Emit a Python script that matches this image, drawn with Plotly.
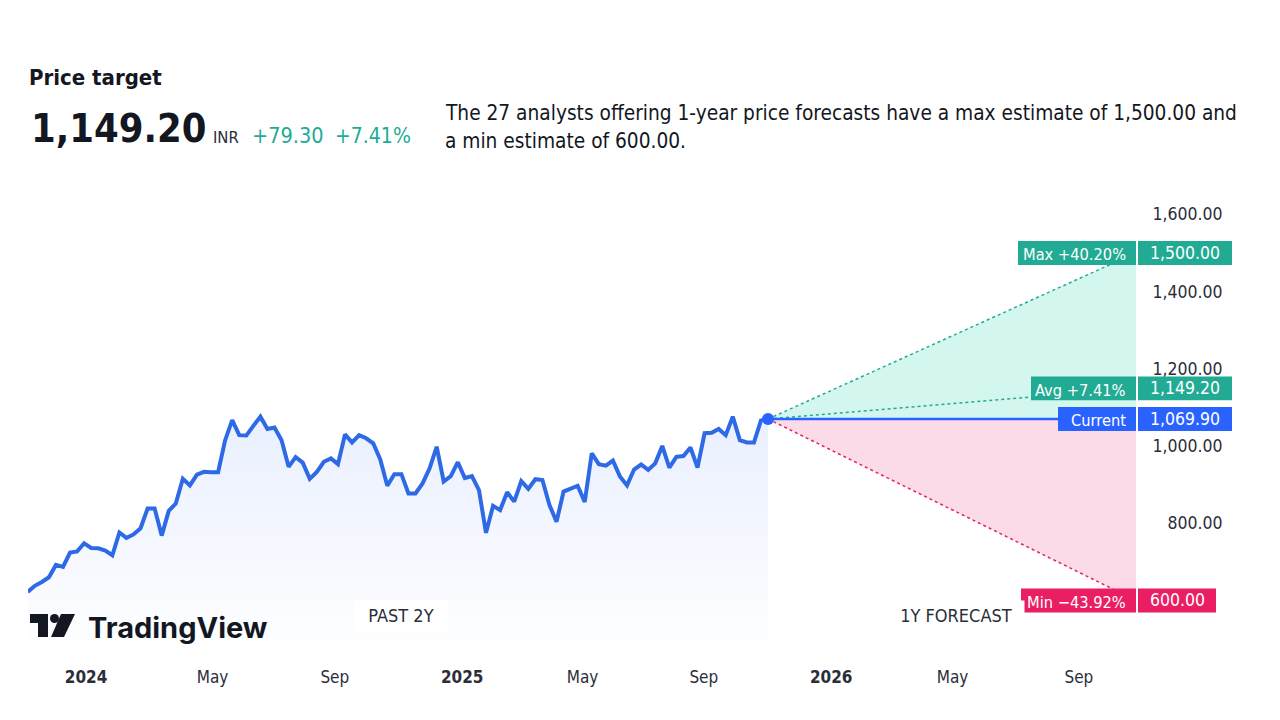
import pandas as pd
import plotly.graph_objects as go

# weekly closes
prices = [622, 638, 648, 660, 692, 687, 724, 727, 748, 736, 735, 729, 717, 776, 762, 771,
          787, 838, 838, 768, 832, 851, 915, 898, 926, 933, 932, 932, 1015, 1067, 1028, 1027,
          1052, 1076, 1044, 1048, 1015, 946, 971, 957, 915, 933, 959, 968, 953, 1030, 1009, 1028,
          1020, 1007, 965, 897, 927, 927, 877, 877, 903, 942, 998, 908, 922, 958, 917, 922,
          886, 775, 845, 834, 880, 856, 909, 889, 914, 912, 847, 804, 882, 890, 897, 855,
          981, 953, 949, 962, 921, 898, 939, 952, 938, 955, 1000, 944, 972, 974, 996, 944,
          1033, 1034, 1044, 1028, 1076, 1015, 1009, 1009, 1066, 1069.9]
# spacing a little under a week so the 106 points span the drawn width
dates = pd.date_range(end="2025-10-31", periods=len(prices), freq="166h")

current_price = 1069.9
forecast_end = "2026-10-27"
targets = [1500.00, 1149.20, 600.00]
target_colors = ["#22ab94", "#22ab94", "#e91e63"]
tag_labels = ["Max +40.20%", "Avg +7.41%", "Current", "Min \u221243.92%"]
tag_values = [1500.00, 1149.20, 1069.90, 600.00]
tag_text = ["1,500.00", "1,149.20", "1,069.90", "600.00"]
tag_colors = ["#22ab94", "#22ab94", "#2962ff", "#e91e63"]
tag_lefts = [1018, 1031, 1058, 1021]
tag_rights = [1232, 1232, 1232, 1216]

y_ticks = [800, 1000, 1200, 1400, 1600]
y_labels = ["\u00a0\u00a0\u00a0800.00", "1,000.00", "1,200.00", "1,400.00", "1,600.00"]
x_ticks = ["2024-01-01", "2024-05-04", "2024-09-01", "2025-01-04", "2025-05-02",
           "2025-08-29", "2026-01-01", "2026-04-30", "2026-09-01"]
x_labels = ["<b>2024</b>", "May", "Sep", "<b>2025</b>", "May", "Sep", "<b>2026</b>", "May", "Sep"]

FONT = "DejaVu Sans Condensed, DejaVu Sans"
# the page body has an 8px margin, so the figure sits 8px in from the corner
OFF = 8
W, H = 1280 - OFF, 720 - OFF
L, R, T, B = 28 - OFF, 1136 - OFF, 200 - OFF, 660 - OFF


def px(x):
    return (x - OFF - L) / (R - L)


def py(y):
    return (B - (y - OFF)) / (B - T)


fig = go.Figure()

# forecast fans
fig.add_trace(go.Scatter(x=[dates[-1], forecast_end, forecast_end, dates[-1]],
                         y=[current_price, targets[0], current_price, current_price],
                         mode="none", fill="toself", fillcolor="#d3f6ef", hoverinfo="skip"))
fig.add_trace(go.Scatter(x=[dates[-1], forecast_end, forecast_end, dates[-1]],
                         y=[current_price, targets[2], current_price, current_price],
                         mode="none", fill="toself", fillcolor="#fbdbe7", hoverinfo="skip"))
for t, c in zip(targets, target_colors):
    fig.add_trace(go.Scatter(x=[dates[-1], forecast_end], y=[current_price, t], mode="lines",
                             line=dict(color=c, width=1.5, dash="dot")))
fig.add_trace(go.Scatter(x=[dates[-1], forecast_end], y=[current_price, current_price],
                         mode="lines", line=dict(color="#2962ff", width=2.5)))

# price history
fig.add_trace(go.Scatter(x=dates, y=prices, mode="lines",
                         line=dict(color="#2e69e6", width=4, shape="linear"),
                         fill="tozeroy",
                         fillgradient=dict(type="vertical", start=1075, stop=450,
                                           colorscale=[[0, "rgba(41,98,255,0.10)"],
                                                       [1, "rgba(41,98,255,0)"]])))
fig.add_trace(go.Scatter(x=[dates[-1]], y=[current_price], mode="markers",
                         marker=dict(color="#2962ff", size=12)))

fig.update_layout(
    width=W, height=H, showlegend=False,
    paper_bgcolor="white", plot_bgcolor="white",
    margin=dict(l=L, r=W - R, t=T, b=H - B),
    font=dict(family=FONT, color="#131722"),
    xaxis=dict(range=["2023-11-05", forecast_end], showgrid=False, zeroline=False, showline=False,
               tickvals=x_ticks, ticktext=x_labels, ticks="outside", ticklen=2, tickcolor="white",
               tickangle=0, tickfont=dict(size=17, color="#2a2e39")),
    yaxis=dict(range=[445.8, 1637], side="right", showgrid=False, zeroline=False, showline=False,
               tickvals=y_ticks, ticktext=y_labels, ticks="outside", ticklen=12, tickcolor="white",
               tickfont=dict(size=17.5, color="#2a2e39")),
)


def text(x, y, s, size, color="#131722", anchor="left", **kw):
    fig.add_annotation(xref="paper", yref="paper", x=px(x), y=py(y), text=s, showarrow=False,
                       xanchor=anchor, yanchor="middle", align=anchor, borderpad=0,
                       font=dict(size=size, color=color, family=FONT), **kw)


text(28, 77, "<b>Price target</b>", 22)
text(30, 128, "<b>1,149.20</b>", 39.5)
text(212, 137, "INR", 16.5, "#2a2e39")
text(251, 136, "+79.30", 21.5, "#22ab94")
text(334, 136, "+7.41%", 21, "#22ab94")
text(444, 113, "The 27 analysts offering 1-year price forecasts have a max estimate of 1,500.00 and", 20.7)
text(444, 141, "a min estimate of 600.00.", 20.7)

# price tags, placed on the value scale
for lab, val, txt, col, left, right in zip(tag_labels, tag_values, tag_text, tag_colors, tag_lefts, tag_rights):
    fig.add_shape(type="rect", xref="paper", yref="y", x0=px(left), x1=px(1136), y0=val - 31, y1=val + 31,
                  fillcolor=col, line_width=0, layer="above")
    fig.add_shape(type="rect", xref="paper", yref="y", x0=px(1138), x1=px(right), y0=val - 31, y1=val + 31,
                  fillcolor=col, line_width=0, layer="above")
    fig.add_annotation(xref="paper", yref="y", x=px(1128), y=val, text=lab, showarrow=False,
                       xanchor="right", yanchor="middle", yshift=-2,
                       font=dict(size=16.3, color="white", family=FONT))
    fig.add_annotation(xref="paper", yref="y", x=px((1138 + right) / 2), y=val, text=txt, showarrow=False,
                       xanchor="center", yanchor="middle",
                       font=dict(size=17.5, color="white", family=FONT))

# period pills
for cx, w, s in [(401, 92, "PAST 2Y"), (956, 136, "1Y FORECAST")]:
    text(cx, 615, s, 18, "#2a2e39", anchor="center", bgcolor="white", width=w, height=29)

# logo
fig.add_shape(type="path", xref="paper", yref="paper", fillcolor="#131722", line_width=0,
              path=f"M{px(30)},{py(614)} L{px(48)},{py(614)} L{px(48)},{py(637)} L{px(38)},{py(637)} "
                   f"L{px(38)},{py(623)} L{px(30)},{py(623)} Z")
fig.add_shape(type="path", xref="paper", yref="paper", fillcolor="#131722", line_width=0,
              path=f"M{px(61)},{py(614)} L{px(75)},{py(614)} L{px(64)},{py(637)} L{px(51)},{py(637)} Z")
fig.add_shape(type="circle", xref="paper", yref="paper", fillcolor="#131722", line_width=0,
              x0=px(50), x1=px(59), y0=py(623), y1=py(614))
fig.add_annotation(xref="paper", yref="paper", x=px(86), y=py(627), text="<b>TradingView</b>", showarrow=False,
                   xanchor="left", yanchor="middle", font=dict(size=29, color="#131722", family="Inter"))

fig.write_html("out.html")
